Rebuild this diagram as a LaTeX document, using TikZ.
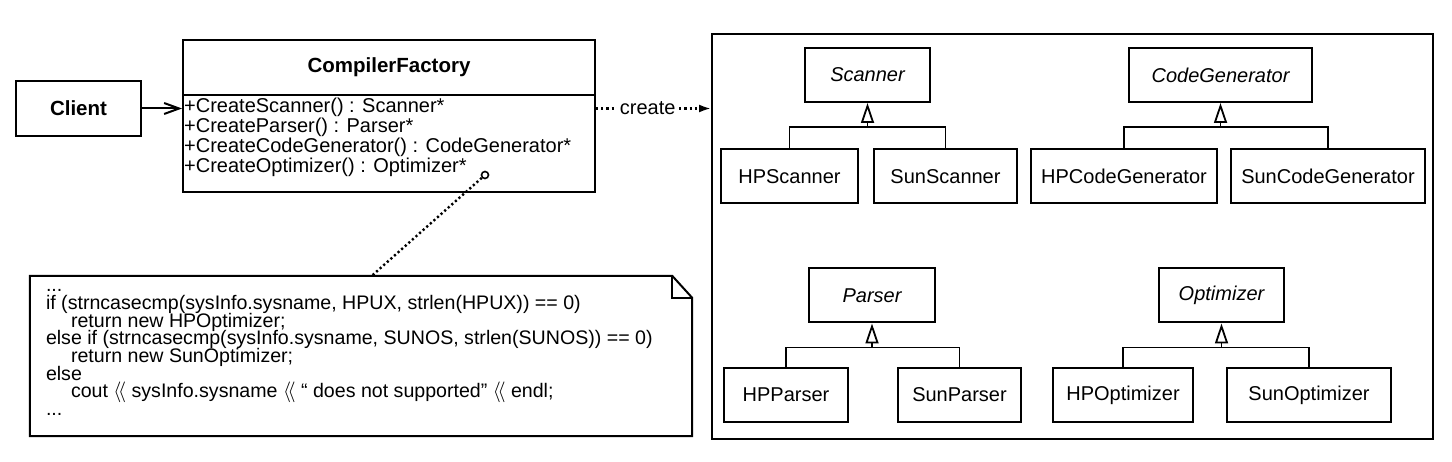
\documentclass[tikz,border=0pt]{standalone}
\usepackage{fontspec}
\setmainfont{Liberation Sans}
\usepackage{tikz}
\usetikzlibrary{arrows.meta,calc}

\newcommand{\umltitle}{\fontsize{20.5}{22}\selectfont\bfseries}
\newcommand{\umltext}{\fontsize{20}{20}\selectfont\lineskiplimit=-\maxdimen}
\newcommand{\umlcode}{\fontsize{19.6}{17.6}\selectfont\lineskiplimit=-\maxdimen}

\begin{document}
\begin{tikzpicture}[x=1pt,y=-1pt,
   classbox/.style={draw,line width=2pt,rectangle,inner sep=0pt,minimum height=54pt,font=\umltext},
   abstractbox/.style={classbox,font=\umltext\itshape},
   titlebox/.style={classbox,font=\umltitle},
   opstext/.style={align=left,inner sep=0pt,font=\umltext},
   codetext/.style={align=left,inner sep=0pt,font=\umlcode},
   assoc/.style={line width=2pt,-{Straight Barb[length=15pt,width=11pt]}},
   createlink/.style={line width=2.2pt,dash pattern=on 2.2pt off 3pt,-{Latex[length=12pt,width=8pt]}},
   inherit/.style={line width=1.8pt},
   generalize/.style={-{Triangle[open,length=20pt,width=13pt,fill=white]}},
   noteline/.style={line width=2pt,line join=miter},
   notelink/.style={line width=2.4pt,dash pattern=on 2.2pt off 2.6pt},
   notehook/.style={circle,draw,line width=1.6pt,fill=white,minimum size=7pt,inner sep=0pt}]

   \useasboundingbox (0,0) rectangle (1452,462);

   % Client, CompilerFactory
   \node[titlebox,minimum width=125pt,minimum height=55pt] (client) at (78.5,108.5) {Client};
   \node[titlebox,minimum width=412pt,minimum height=55pt] (factory) at (389,67.5) {CompilerFactory};
   \node[classbox,minimum width=412pt,minimum height=97pt] (factoryops) at (389,143.5) {};
   \node[opstext,anchor=north west] (factoryopslist) at ([xshift=2pt,yshift=-2pt]factoryops.north west)
      {\rule{0pt}{16pt}+CreateScanner() : Scanner*\\
       +CreateParser() : Parser*\\
       +CreateCodeGenerator() : CodeGenerator*\\
       +CreateOptimizer() : Optimizer*};
   \draw[assoc] (client.east) -- (client.east -| factoryops.west);

   % products
   \node[classbox,minimum width=721pt,minimum height=405pt] (products) at (1072.5,236.5) {};
   \draw[createlink] (client.east -| factoryops.east) --
      node[pos=0.45,fill=white,inner xsep=3pt,inner ysep=2pt,font=\umltext] (createlabel) {create}
      (client.east -| products.west);

   \foreach \cls/\x/\y/\w in {Scanner/867.5/75/125pt,CodeGenerator/1220.5/75/183pt,
                              Parser/872/295.5/126pt,Optimizer/1221.5/295.5/125pt} {
      \node[abstractbox,minimum width=\w] (\cls) at (\x,\y) {\cls};
   }
   \foreach \cls/\x/\y/\w in {HPScanner/789.5/176.5/137pt,SunScanner/945.5/176.5/143pt,
                              HPCodeGenerator/1124/176.5/186pt,SunCodeGenerator/1328/176.5/194pt,
                              HPParser/786/395/124pt,SunParser/959.5/395/123pt,
                              HPOptimizer/1123/395/140pt,SunOptimizer/1309/395/164pt} {
      \node[classbox,minimum width=\w] (\cls) at (\x,\y) {\cls};
   }
   \foreach \cls in {Scanner,CodeGenerator,Parser,Optimizer} {
      \coordinate (\cls join) at ($(\cls.south)+(0,24)$);
      \draw[inherit] (HP\cls.north) |- (\cls join) -| (Sun\cls.north);
      \draw[inherit,generalize] (\cls join) -- (\cls.south);
   }

   % note
   \node[minimum width=662pt,minimum height=160pt,inner sep=0pt] (codenote) at (361,356) {};
   \draw[noteline] (codenote.north west) -- ([xshift=-20pt]codenote.north east)
      -- ([yshift=-22pt]codenote.north east) -- (codenote.south east) -- (codenote.south west) -- cycle;
   \draw[noteline] ([xshift=-20pt]codenote.north east) |- ([yshift=-22pt]codenote.north east);
   \node[codetext,anchor=north west] (codelines) at ([xshift=16pt,yshift=-1pt]codenote.north west)
      {\rule{0pt}{15pt}...\\
       if (strncasecmp(sysInfo.sysname, HPUX, strlen(HPUX)) == 0)\\
       \hspace*{25pt}return new HPOptimizer;\\
       else if (strncasecmp(sysInfo.sysname, SUNOS, strlen(SUNOS)) == 0)\\
       \hspace*{25pt}return new SunOptimizer;\\
       else\\
       \hspace*{25pt}cout $\langle\!\langle$ sysInfo.sysname $\langle\!\langle$ `` does not supported'' $\langle\!\langle$ endl;\\
       ...};
   \node[notehook] (hook) at (485,175) {};
   \coordinate (noteend) at ($(codenote.north west)+(342,0)$);
   \draw[notelink] (hook) -- (noteend);
\end{tikzpicture}
\end{document}
